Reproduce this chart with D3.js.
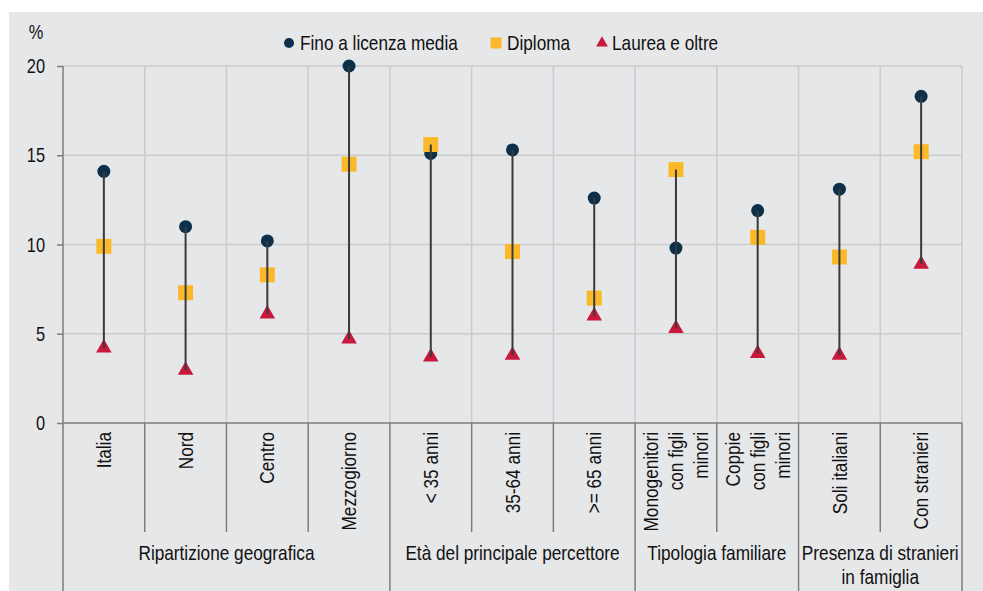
<!DOCTYPE html>
<html><head><meta charset="utf-8">
<script src="https://cdn.jsdelivr.net/npm/d3@7"></script>
<style>
html,body{margin:0;padding:0;background:#fff;}
text{font-family:"Liberation Sans",Arial,sans-serif;fill:#111;}
</style></head>
<body>
<svg id="c" width="983" height="591"></svg>
<script>
const categories = [["Italia"],["Nord"],["Centro"],["Mezzogiorno"],["< 35 anni"],["35-64 anni"],[">= 65 anni"],["Monogenitori","con figli","minori"],["Coppie","con figli","minori"],["Soli italiani"],["Con stranieri"]];
const fino    = [14.1, 11.0, 10.2, 20.0, 15.1, 15.3, 12.6,  9.8, 11.9, 13.1, 18.3];
const diploma = [ 9.9,  7.3,  8.3, 14.5, 15.6,  9.6,  7.0, 14.2, 10.4,  9.3, 15.2];
const laurea  = [ 4.2,  2.95, 6.1,  4.7,  3.7,  3.8,  6.0,  5.3,  3.9,  3.8,  8.9];
const groupNames = [["Ripartizione geografica"],["Età del principale percettore"],["Tipologia familiare"],["Presenza di stranieri","in famiglia"]];
const groupSizes = [4, 3, 2, 2];
const yTicks = [0, 5, 10, 15, 20];
const seriesNames = ["Fino a licenza media", "Diploma", "Laurea e oltre"];

(function(){
const colors = {fino:"#0c3049", dip:"#fbb929", lau:"#c8193c"};
const SX = 0.82; // narrow font emulation
const svg = d3.select("#c");
svg.append("rect").attr("x",9).attr("y",12).attr("width",974).attr("height",579).attr("fill","#e6e7e9");

function label(parent, px, py, str, anchor, rot, size){
  const gg = parent.append("g").attr("transform",`translate(${px},${py}) rotate(${rot||0}) scale(${SX},1)`);
  return gg.append("text").attr("x",0).attr("y",0).attr("text-anchor",anchor)
    .attr("dominant-baseline","central").style("font-size",(size||21)+"px").text(str);
}

const pL = 63, pR = 962, pT = 66, pB = 423;
const x = d3.scaleBand().domain(d3.range(categories.length)).range([pL, pR]).padding(0);
const y = d3.scaleLinear().domain([0, 20]).range([pB, pT]);
const bw = x.bandwidth();

// grid
const g = svg.append("g");
g.selectAll(".hg").data(yTicks.filter(d=>d>0)).join("line")
  .attr("x1",pL).attr("x2",pR).attr("y1",d=>y(d)).attr("y2",d=>y(d))
  .attr("stroke","#cacbcd").attr("stroke-width",1.5);
g.selectAll(".vg").data(d3.range(1, categories.length+1)).join("line")
  .attr("x1",i=>pL+i*bw).attr("x2",i=>pL+i*bw).attr("y1",pT).attr("y2",pB)
  .attr("stroke","#cacbcd").attr("stroke-width",1.5);

// y axis
const yAxis = d3.axisLeft(y).tickValues(yTicks).tickSize(6).tickFormat("");
const ya = svg.append("g").attr("transform",`translate(${pL},0)`).call(yAxis);
ya.select(".domain").remove();
ya.selectAll(".tick line").attr("stroke","#7d7d7d").attr("stroke-width",1.5);
yTicks.forEach(v=>label(svg, 45, y(v), d3.format("d")(v), "end", 0, 20));
svg.append("line").attr("x1",pL).attr("x2",pL).attr("y1",pT).attr("y2",591).attr("stroke","#7d7d7d").attr("stroke-width",1.5);
label(svg, 36, 32, "%", "middle", 0, 20);

// x axis line
svg.append("line").attr("x1",pL).attr("x2",pR).attr("y1",pB).attr("y2",pB).attr("stroke","#7d7d7d").attr("stroke-width",1.5);

// separators below axis
const groupStarts = [0];
groupSizes.forEach((s,i)=>groupStarts.push(groupStarts[i]+s));
const sep = d3.range(1, categories.length+1);
svg.selectAll(".sep").data(sep).join("line")
  .attr("x1",i=>pL+i*bw).attr("x2",i=>pL+i*bw)
  .attr("y1",pB).attr("y2",i=>groupStarts.includes(i)?591:532)
  .attr("stroke","#7d7d7d").attr("stroke-width",1.5);

// category labels
const lh = 25;
categories.forEach((lines,i)=>{
  const cx = x(i) + bw/2;
  const n = lines.length;
  lines.forEach((t,j)=>{
    const lx = cx + (j - (n-1)/2)*lh;
    label(svg, lx, 432, t, "end", -90, 21);
  });
});

// group labels
groupNames.forEach((lines,k)=>{
  const x0 = pL + groupStarts[k]*bw, x1 = pL + groupStarts[k+1]*bw;
  lines.forEach((t,j)=>{
    label(svg, (x0+x1)/2, 553 + j*24, t, "middle", 0, 21);
  });
});

// markers
const cxs = d3.range(categories.length).map(i=>x(i)+bw/2);
const circ = d3.symbol().type(d3.symbolCircle).size(Math.PI*6.5*6.5);
const sq = d3.symbol().type(d3.symbolSquare).size(15*15);
const tri = d3.symbol().type(d3.symbolTriangle).size(105);
svg.selectAll(".f").data(fino).join("path").attr("d",circ).attr("fill",colors.fino)
  .attr("transform",(d,i)=>`translate(${cxs[i]},${y(d)})`);
svg.selectAll(".d").data(diploma).join("path").attr("d",sq).attr("fill",colors.dip)
  .attr("transform",(d,i)=>`translate(${cxs[i]},${y(d)})`);
svg.selectAll(".l").data(laurea).join("path").attr("d",tri).attr("fill",colors.lau)
  .attr("transform",(d,i)=>`translate(${cxs[i]},${y(d)})`);
// range lines on top
svg.selectAll(".rl").data(d3.range(categories.length)).join("line")
  .attr("x1",i=>cxs[i]).attr("x2",i=>cxs[i])
  .attr("y1",i=>y(Math.max(fino[i],diploma[i],laurea[i])))
  .attr("y2",i=>y(Math.min(fino[i],diploma[i],laurea[i])))
  .attr("stroke","#3a3a3a").attr("stroke-width",2);

// legend
const leg = svg.append("g");
const legItems = [
  {sym:d3.symbol().type(d3.symbolCircle).size(Math.PI*25), c:colors.fino, x:289, tx:300},
  {sym:d3.symbol().type(d3.symbolSquare).size(121), c:colors.dip, x:496, tx:507},
  {sym:d3.symbol().type(d3.symbolTriangle).size(60), c:colors.lau, x:602, tx:612}
];
legItems.forEach((it,k)=>{
  leg.append("path").attr("d",it.sym).attr("fill",it.c).attr("transform",`translate(${it.x},43)`);
  label(leg, it.tx, 43, seriesNames[k], "start", 0, 21);
});
})();
</script>
</body></html>
